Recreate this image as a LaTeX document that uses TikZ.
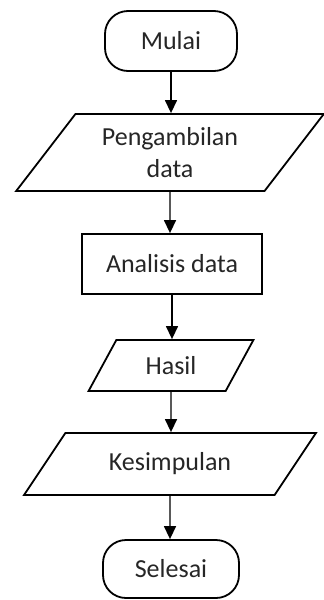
\documentclass[tikz,border=0pt]{standalone}
\usepackage{fontspec}
\setmainfont{Carlito}
\usetikzlibrary{shapes.geometric,arrows.meta}

\begin{document}
\begin{tikzpicture}[x=1pt, y=1pt, line width=1.8pt,
    every node/.style={font=\fontsize{26}{32}\selectfont, text=black!85, align=center},
    terminal/.style={draw, rounded corners=23pt, minimum height=60pt},
    io/.style={draw, trapezium, trapezium stretches=true, inner sep=2pt},
    process/.style={draw, rectangle, minimum width=180pt, minimum height=60pt}]
    \useasboundingbox (0,0) rectangle (324,-600);

    % Start
    \node[terminal, minimum width=132pt] (mulai) at (171,-41) {Mulai};

    % Input data
    \node[io, trapezium left angle=51, trapezium right angle=129,
          minimum width=308pt, minimum height=77pt] (ambil) at (170,-152.5) {Pengambilan\\data};

    % Process
    \node[process] (analisis) at (172,-264) {Analisis data};

    % Output
    \node[io, trapezium left angle=58, trapezium right angle=122,
          minimum width=165pt, minimum height=51pt] (hasil) at (171,-365.5) {Hasil};
    \node[io, trapezium left angle=46.5, trapezium right angle=133.5,
          minimum width=292pt, minimum height=62pt] (simpulan) at (170,-464) {Kesimpulan};

    % End
    \node[terminal, minimum width=136pt, minimum height=58pt] (selesai) at (171,-569) {Selesai};

    % Arrows
    \foreach \a/\b in {mulai/ambil, ambil/analisis, analisis/hasil, hasil/simpulan, simpulan/selesai} {
        \draw[-{Triangle[width=12pt,length=13pt]}, line width=1.4pt] (\a) -- (\a |- \b.north);
    }
\end{tikzpicture}
\end{document}
